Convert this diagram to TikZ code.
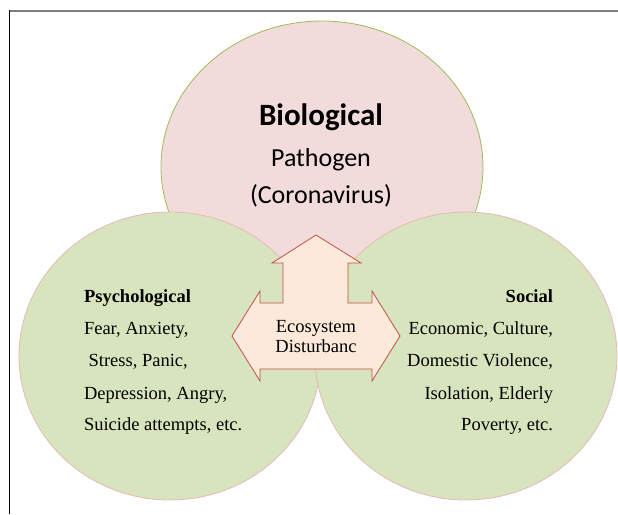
\documentclass[tikz,border=0pt]{standalone}
\usepackage{fontspec}
\setmainfont{Liberation Serif}
\newfontfamily\calfont{Carlito}
\usetikzlibrary{shapes.geometric}
\definecolor{biofill}{HTML}{F2DCDB}
\definecolor{biodraw}{HTML}{9BBB59}
\definecolor{grfill}{HTML}{D7E4BD}
\definecolor{grdraw}{HTML}{E6B9B8}
\definecolor{arfill}{HTML}{FDE9D9}
\definecolor{ardraw}{HTML}{C0504D}
\tikzset{
  circ/.style={ellipse, inner sep=0pt, outer sep=0pt, line width=0.8pt},
  biocirc/.style={circ, fill=biofill, draw=biodraw},
  grcirc/.style={circ, fill=grfill, draw=grdraw},
  txt/.style={inner sep=0pt, outer sep=0pt, font=\fontsize{18.5}{22}\selectfont},
  lt/.style={txt, anchor=base west},
  rt/.style={txt, anchor=base east},
  ct/.style={txt, anchor=base},
  caltxt/.style={inner sep=0pt, outer sep=0pt, anchor=base},
}
\begin{document}
\begin{tikzpicture}[x=1pt,y=-1pt]
\useasboundingbox (0,0) rectangle (618,514);
% frame
\draw[line width=2pt, color=gray] (9,11) -- (618,11);
\draw[line width=0.9pt, color=black] (9.5,10) -- (9.5,514);
% circles
\node[biocirc, minimum width=322pt, minimum height=292pt] (bio) at (322,167) {};
\node[grcirc, minimum width=302pt, minimum height=288pt] (psy) at (170,356) {};
\node[grcirc, minimum width=302pt, minimum height=288pt] (soc) at (466,356) {};
% biological text
\node[caltxt, font=\calfont\bfseries\fontsize{31}{36}\selectfont] (b1) at (321,125) {Biological};
\node[caltxt, font=\calfont\fontsize{26}{30}\selectfont] (b2) at (321,166) {Pathogen};
\node[caltxt, font=\calfont\fontsize{26}{30}\selectfont] (b3) at (321,203) {(Coronavirus)};
% arrow
\draw[line width=0.8pt, draw=ardraw, fill=arfill, line join=miter]
  (316,235) -- (361,263) -- (348,263) -- (348,303) -- (372,303) -- (372,291)
  -- (400,336) -- (372,381) -- (372,369) -- (260,369) -- (260,381)
  -- (232,336) -- (260,291) -- (260,303) -- (283,303) -- (283,263)
  -- (272,263) -- cycle;
\node[ct] (e1) at (316,332) {Ecosystem};
\node[ct] (e2) at (316,352) {Disturbanc};
% psychological text
\node[lt, font=\bfseries\fontsize{18.5}{22}\selectfont] (p0) at (84,302) {Psychological};
\node[lt] (p1) at (84,334) {Fear, Anxiety,};
\node[lt] (p2) at (88.6,366.5) {Stress, Panic,};
\node[lt] (p3) at (84,399) {Depression, Angry,};
\node[lt] (p4) at (84,430.5) {Suicide attempts, etc.};
% social text
\node[rt, font=\bfseries\fontsize{18.5}{22}\selectfont] (s0) at (553,302) {Social};
\node[rt] (s1) at (553,334) {Economic, Culture,};
\node[rt] (s2) at (553,366.5) {Domestic Violence,};
\node[rt] (s3) at (553,399) {Isolation, Elderly};
\node[rt] (s4) at (553,430.5) {Poverty, etc.};
\end{tikzpicture}
\end{document}
